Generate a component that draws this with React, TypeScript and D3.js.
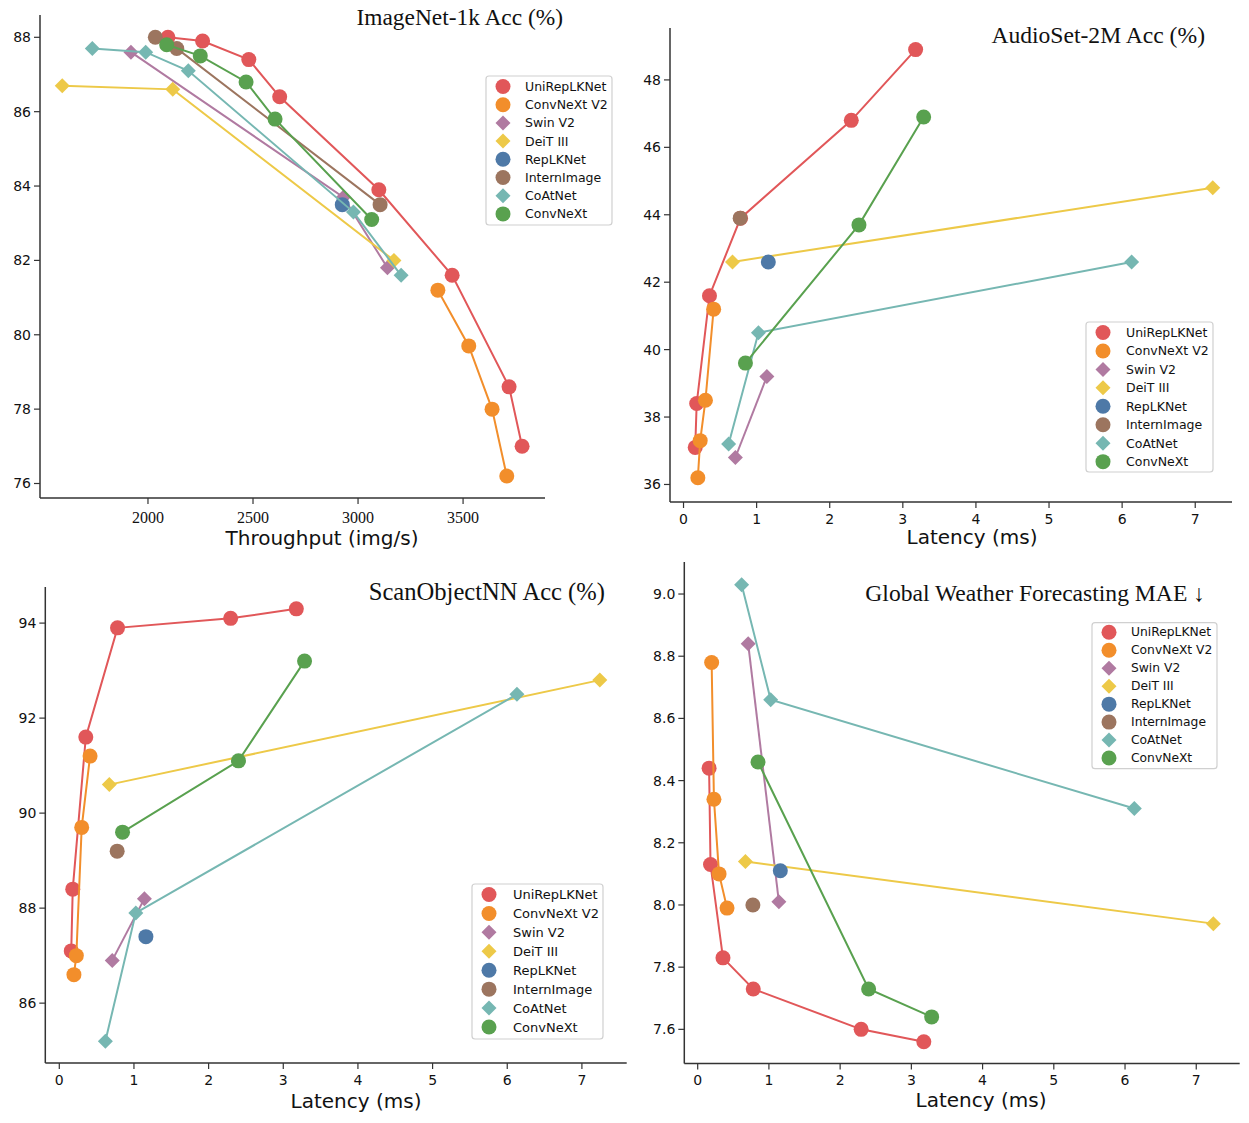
import React from "react";
import * as d3 from "d3";

// ---------- shared model info ----------
const modelNames = ["UniRepLKNet", "ConvNeXt V2", "Swin V2", "DeiT III", "RepLKNet", "InternImage", "CoAtNet", "ConvNeXt"];
const modelColors = ["#E15759", "#F28E2B", "#B07AA1", "#EDC948", "#4E79A7", "#9C755F", "#76B7B2", "#59A14F"];
const modelShapes = ["circle", "circle", "diamond", "diamond", "circle", "circle", "diamond", "circle"];

// ---------- ImageNet-1k: throughput (img/s) vs accuracy ----------
const inThroughput = [
  [2095, 2260, 2480, 2627, 3099, 3448, 3719, 3781],
  [3380, 3527, 3638, 3708],
  [1919, 2930, 3140],
  [1592, 2118, 3171],
  [2925],
  [2035, 2137, 3105],
  [1735, 1989, 2192, 2978, 3205],
  [2089, 2249, 2467, 2605, 3065],
];
const inAcc = [
  [88.0, 87.9, 87.4, 86.4, 83.9, 81.6, 78.6, 77.0],
  [81.2, 79.7, 78.0, 76.2],
  [87.6, 83.7, 81.8],
  [86.7, 86.6, 82.0],
  [83.5],
  [88.0, 87.7, 83.5],
  [87.7, 87.6, 87.1, 83.3, 81.6],
  [87.8, 87.5, 86.8, 85.8, 83.1],
];

// ---------- latency (ms), shared by the other three tasks ----------
const latency = [
  [0.16, 0.18, 0.355, 0.78, 2.295, 3.175],
  [0.196, 0.228, 0.3, 0.412],
  [0.709, 1.14],
  [0.67, 7.24],
  [1.16],
  [0.775],
  [0.617, 1.025, 6.13],
  [0.847, 2.4, 3.285],
];
const audioAcc = [
  [37.1, 38.4, 41.6, 43.9, 46.8, 48.9],
  [36.2, 37.3, 38.5, 41.2],
  [36.8, 39.2],
  [42.6, 44.8],
  [42.6],
  [43.9],
  [37.2, 40.5, 42.6],
  [39.6, 43.7, 46.9],
];
const scanAcc = [
  [87.1, 88.4, 91.6, 93.9, 94.1, 94.3],
  [86.6, 87.0, 89.7, 91.2],
  [86.9, 88.2],
  [90.6, 92.8],
  [87.4],
  [89.2],
  [85.2, 87.9, 92.5],
  [89.6, 91.1, 93.2],
];
const weatherMAE = [
  [8.44, 8.13, 7.83, 7.73, 7.60, 7.56],
  [8.78, 8.34, 8.10, 7.99],
  [8.84, 8.01],
  [8.14, 7.94],
  [8.11],
  [8.00],
  [9.03, 8.66, 8.31],
  [8.46, 7.73, 7.64],
];

// ---------- tick values ----------
const inXTicks = [2000, 2500, 3000, 3500];
const inYTicks = [76, 78, 80, 82, 84, 86, 88];
const latTicks = [0, 1, 2, 3, 4, 5, 6, 7];
const audioYTicks = [36, 38, 40, 42, 44, 46, 48];
const scanYTicks = [86, 88, 90, 92, 94];
const weatherYTicks = [7.6, 7.8, 8.0, 8.2, 8.4, 8.6, 8.8, 9.0];

const SANS = "'DejaVu Sans', sans-serif";
const SERIF = "'Liberation Serif', 'Times New Roman', serif";

function diamond(s: number) {
  return `M0,${-s}L${s},0L0,${s}L${-s},0Z`;
}

function Marker({ shape, color, x, y, r }: any) {
  if (shape === "circle") return <circle cx={x} cy={y} r={r} fill={color} />;
  return <path transform={`translate(${x},${y})`} d={diamond(r * 1.0)} fill={color} />;
}

function Panel(cfg: any) {
  const { frame, xDomain, yDomain, xTicks, yTicks, yFmt, xVals, yVals, title, xlabel, legend, serifX } = cfg;
  const x = d3.scaleLinear().domain(xDomain).range([frame.l, frame.r]);
  const y = d3.scaleLinear().domain(yDomain).range([frame.b, frame.t]);
  const line = d3.line<[number, number]>().x((d) => x(d[0])).y((d) => y(d[1]));
  return (
    <g>
      {/* series */}
      {modelNames.map((name, i) => {
        const pts: [number, number][] = xVals[i].map((v: number, j: number) => [v, yVals[i][j]]);
        return (
          <g key={name}>
            {pts.length > 1 && (
              <path d={line(pts) || ""} fill="none" stroke={modelColors[i]} strokeWidth={2} />
            )}
            {pts.map((p, j) => (
              <Marker key={j} shape={modelShapes[i]} color={modelColors[i]} x={x(p[0])} y={y(p[1])} r={7.5} />
            ))}
          </g>
        );
      })}
      {/* axes */}
      <line x1={frame.l} x2={frame.l} y1={frame.t} y2={frame.b} stroke="#333" strokeWidth={1.5} />
      <line x1={frame.l} x2={frame.r} y1={frame.b} y2={frame.b} stroke="#333" strokeWidth={1.5} />
      {yTicks.map((t: number) => (
        <g key={"y" + t}>
          <line x1={frame.l - 6} x2={frame.l} y1={y(t)} y2={y(t)} stroke="#333" strokeWidth={1.2} />
          <text x={frame.l - 9} y={y(t)} textAnchor="end" dominantBaseline="central" fontFamily={SANS} fontSize={14} fill="#111">
            {yFmt(t)}
          </text>
        </g>
      ))}
      {xTicks.map((t: number) => (
        <g key={"x" + t}>
          <line x1={x(t)} x2={x(t)} y1={frame.b} y2={frame.b + 6} stroke="#333" strokeWidth={1.2} />
          <text
            x={x(t)}
            y={frame.b + (serifX ? 19 : 16.5)}
            textAnchor="middle"
            dominantBaseline="central"
            fontFamily={serifX ? SERIF : SANS}
            fontSize={serifX ? 16 : 14}
            fill="#111"
          >
            {t}
          </text>
        </g>
      ))}
      <text x={xlabel.x} y={xlabel.y} textAnchor="middle" dominantBaseline="central" fontFamily={SANS} fontSize={20} fill="#111">
        {xlabel.text}
      </text>
      <text x={title.x} y={title.y} textAnchor="end" fontFamily={SERIF} fontSize={title.size} fill="#111">
        {title.text}
      </text>
      {/* legend */}
      <rect x={legend.x} y={legend.y} width={legend.w} height={legend.h} rx={3} fill="#fff" fillOpacity={0.85} stroke="#d0d0d0" strokeWidth={1.2} />
      {modelNames.map((name, i) => {
        const cy = legend.y + legend.first + i * legend.step;
        return (
          <g key={"lg" + name}>
            <Marker shape={modelShapes[i]} color={modelColors[i]} x={legend.x + 17} y={cy} r={7.5} />
            <text x={legend.x + legend.tx} y={cy} dominantBaseline="central" fontFamily={SANS} fontSize={legend.fs} fill="#111">
              {name}
            </text>
          </g>
        );
      })}
    </g>
  );
}

export default function App() {
  const fmt0 = (v: number) => String(v);
  const fmt1 = d3.format(".1f");
  return (
    <svg width={1249} height={1123} style={{ position: "absolute", left: 0, top: 0, background: "#fff" }}>
      <rect width={1249} height={1123} fill="#fff" />
      <Panel
        frame={{ l: 40, r: 545, t: 15, b: 498 }}
        xDomain={[1486, 3890]}
        yDomain={[75.61, 88.6]}
        xTicks={inXTicks}
        yTicks={inYTicks}
        yFmt={fmt0}
        serifX
        xVals={inThroughput}
        yVals={inAcc}
        title={{ text: "ImageNet-1k Acc (%)", x: 563, y: 25, size: 23.4 }}
        xlabel={{ text: "Throughput (img/s)", x: 322, y: 538 }}
        legend={{ x: 486, y: 76, w: 126, h: 149, first: 10.5, step: 18.2, tx: 39, fs: 12.5 }}
      />
      <Panel
        frame={{ l: 670, r: 1232, t: 28, b: 502 }}
        xDomain={[-0.185, 7.503]}
        yDomain={[35.48, 49.54]}
        xTicks={latTicks}
        yTicks={audioYTicks}
        yFmt={fmt0}
        xVals={latency}
        yVals={audioAcc}
        title={{ text: "AudioSet-2M Acc (%)", x: 1205, y: 43, size: 23.6 }}
        xlabel={{ text: "Latency (ms)", x: 972, y: 537 }}
        legend={{ x: 1086, y: 322, w: 127, h: 150, first: 10.5, step: 18.45, tx: 40, fs: 12.5 }}
      />
      <Panel
        frame={{ l: 45.3, r: 626.7, t: 587, b: 1063 }}
        xDomain={[-0.1875, 7.6]}
        yDomain={[84.74, 94.76]}
        xTicks={latTicks}
        yTicks={scanYTicks}
        yFmt={fmt0}
        xVals={latency}
        yVals={scanAcc}
        title={{ text: "ScanObjectNN Acc (%)", x: 605, y: 600, size: 24.6 }}
        xlabel={{ text: "Latency (ms)", x: 356, y: 1101 }}
        legend={{ x: 472, y: 884, w: 131, h: 155, first: 10.5, step: 18.93, tx: 41, fs: 13 }}
      />
      <Panel
        frame={{ l: 684.3, r: 1239.7, t: 562, b: 1063.4 }}
        xDomain={[-0.188, 7.61]}
        yDomain={[7.4905, 9.103]}
        xTicks={latTicks}
        yTicks={weatherYTicks}
        yFmt={fmt1}
        xVals={latency}
        yVals={weatherMAE}
        title={{ text: "Global Weather Forecasting MAE ↓", x: 1205, y: 601, size: 23.6 }}
        xlabel={{ text: "Latency (ms)", x: 981, y: 1100 }}
        legend={{ x: 1092, y: 622.7, w: 125, h: 146, first: 9.6, step: 17.96, tx: 39, fs: 12.3 }}
      />
    </svg>
  );
}
